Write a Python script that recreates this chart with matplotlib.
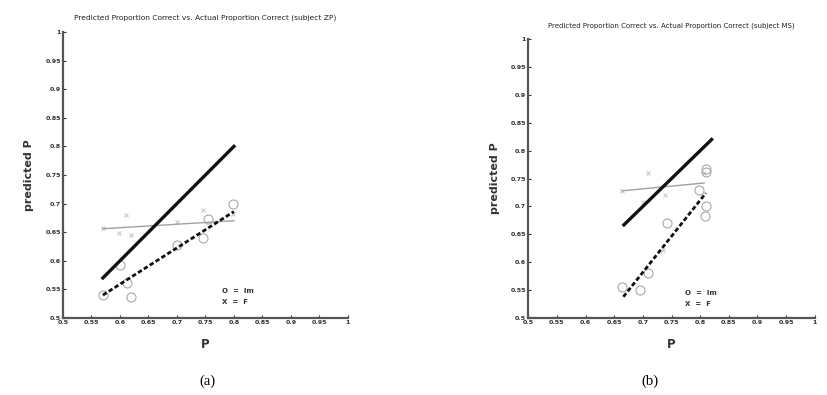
import matplotlib.pyplot as plt

# subject ZP
zp_lm_x = [0.57, 0.60, 0.612, 0.619, 0.70, 0.745, 0.755, 0.798]
zp_lm_y = [0.54, 0.593, 0.561, 0.537, 0.628, 0.64, 0.673, 0.699]
zp_f_x = [0.57, 0.61, 0.598, 0.619, 0.70, 0.745, 0.798]
zp_f_y = [0.657, 0.68, 0.649, 0.645, 0.668, 0.689, 0.682]
zp_ident = [0.57, 0.80]
zp_lm_fit_x = [0.57, 0.80]
zp_lm_fit_y = [0.54, 0.686]
zp_f_fit_x = [0.57, 0.80]
zp_f_fit_y = [0.656, 0.670]

# subject MS
ms_lm_x = [0.664, 0.695, 0.709, 0.742, 0.798, 0.81, 0.81, 0.81, 0.808]
ms_lm_y = [0.556, 0.55, 0.581, 0.670, 0.729, 0.762, 0.767, 0.70, 0.683]
ms_f_x = [0.664, 0.709, 0.739, 0.70, 0.807, 0.735]
ms_f_y = [0.728, 0.76, 0.72, 0.708, 0.76, 0.622]
ms_ident = [0.667, 0.82]
ms_lm_fit_x = [0.666, 0.81]
ms_lm_fit_y = [0.538, 0.724]
ms_f_fit_x = [0.664, 0.807]
ms_f_fit_y = [0.728, 0.742]

ticks = [0.5, 0.55, 0.6, 0.65, 0.7, 0.75, 0.8, 0.85, 0.9, 0.95, 1]
tick_labels = ["0.5", "0.55", "0.6", "0.65", "0.7", "0.75", "0.8", "0.85", "0.9", "0.95", "1"]


def draw_panel(ax, title, lm_x, lm_y, f_x, f_y, ident, lfx, lfy, ffx, ffy, leg_xy, title_fs, pad):
    ax.plot(f_x, f_y, linestyle="none", marker="x", color="#c8c8c8", markersize=3.5, mew=0.8)
    ax.plot(lm_x, lm_y, linestyle="none", marker="o", mfc="none", mec="#a8a8a8", markersize=6.5, mew=0.8)
    ax.plot(ffx, ffy, color="#a0a0a0", linewidth=1.0)
    ax.plot(ident, ident, color="#111111", linewidth=2.4)
    ax.plot(lfx, lfy, color="#111111", linewidth=2.0, linestyle=(0, (1.6, 0.9)))
    ax.text(leg_xy[0], leg_xy[1], "O  =  lm", fontsize=5, color="#333333", fontweight="bold")
    ax.text(leg_xy[0], leg_xy[1] - 0.019, "X  =  F", fontsize=5, color="#333333", fontweight="bold")

    ax.set_xlim(0.5, 1)
    ax.set_ylim(0.5, 1)
    ax.set_xticks(ticks)
    ax.set_xticklabels(tick_labels, fontweight="bold")
    ax.set_yticks(ticks)
    ax.set_yticklabels(tick_labels, fontweight="bold")
    ax.tick_params(direction="in", length=2, width=0.8, labelsize=4.6, pad=1.5, colors="#333333")
    for s in ["top", "right"]:
        ax.spines[s].set_visible(False)
    for s in ["left", "bottom"]:
        ax.spines[s].set_linewidth(1.6)
        ax.spines[s].set_color("#555555")
    ax.set_title(title, fontsize=title_fs, color="#222222", pad=pad)
    ax.set_xlabel("P", fontsize=8.5, fontweight="bold", color="#333333", labelpad=9)
    ax.set_ylabel("predicted P", fontsize=8, fontweight="bold", color="#333333", labelpad=8)


fig = plt.figure(figsize=(8.28, 3.95), dpi=100)
ax1 = fig.add_axes([0.0761, 0.195, 0.344, 0.724])
ax2 = fig.add_axes([0.638, 0.195, 0.346, 0.706])

draw_panel(ax1, "Predicted Proportion Correct vs. Actual Proportion Correct (subject ZP)",
           zp_lm_x, zp_lm_y, zp_f_x, zp_f_y, zp_ident,
           zp_lm_fit_x, zp_lm_fit_y, zp_f_fit_x, zp_f_fit_y, (0.779, 0.543), 5.4, 9)
draw_panel(ax2, "Predicted Proportion Correct vs. Actual Proportion Correct (subject MS)",
           ms_lm_x, ms_lm_y, ms_f_x, ms_f_y, ms_ident,
           ms_lm_fit_x, ms_lm_fit_y, ms_f_fit_x, ms_f_fit_y, (0.774, 0.541), 5.0, 8)

fig.text(207 / 828, 1 - 381 / 395, "(a)", fontsize=10.5, family="Liberation Serif", ha="center", va="center")
fig.text(650 / 828, 1 - 381 / 395, "(b)", fontsize=10.5, family="Liberation Serif", ha="center", va="center")

fig.savefig("out.png", dpi=100)
